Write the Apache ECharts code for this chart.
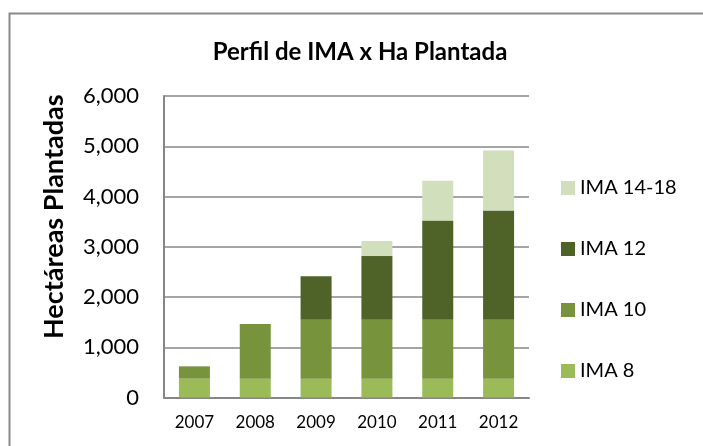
<html>
<head>
    <meta charset="UTF-8">
    <title>Perfil de IMA x Ha Plantada</title>
    <script src="https://cdn.jsdelivr.net/npm/echarts@6/dist/echarts.min.js"></script>
    <style>
        body { margin: 0; background: #fff; }
    </style>
</head>
<body>
    <div id="chart" style="width:703px; height:446px;"></div>

    <script>
        // datos
        var years = ['2007', '2008', '2009', '2010', '2011', '2012'];
        var ima8 = [375, 375, 375, 375, 375, 375];
        var ima10 = [245, 1090, 1170, 1170, 1170, 1170];
        var ima12 = [0, 0, 870, 1270, 1975, 2175];
        var ima1418 = [0, 0, 0, 300, 795, 1195];
        var yTicks = [0, 1000, 2000, 3000, 4000, 5000, 6000];

        var font = 'Lato, "DejaVu Sans", sans-serif';

        function serie(name, data, color) {
            return {
                name: name,
                type: 'bar',
                stack: 'total',
                data: data,
                barWidth: 31,
                itemStyle: { color: color },
                emphasis: { disabled: true }
            };
        }

        var chart = echarts.init(document.getElementById('chart'), null, { renderer: 'canvas' });
        chart.setOption({
            animation: false,
            backgroundColor: '#fff',
            title: {
                text: 'Perfil de IMA x Ha Plantada',
                left: 355,
                textAlign: 'center',
                top: 35,
                textStyle: { fontFamily: font, fontSize: 24, fontWeight: 'bold', color: '#000' }
            },
            legend: {
                orient: 'vertical',
                left: 556,
                top: 173,
                itemWidth: 14,
                itemHeight: 14,
                itemGap: 41,
                icon: 'rect',
                data: ['IMA 14-18', 'IMA 12', 'IMA 10', 'IMA 8'],
                textStyle: { fontFamily: font, fontSize: 20, color: '#000', lineHeight: 20 }
            },
            grid: { left: 164, right: 174, top: 96, bottom: 48.5 },
            xAxis: {
                type: 'category',
                data: years,
                axisLine: { lineStyle: { color: '#868686', width: 2 } },
                axisTick: { show: false },
                axisLabel: { fontFamily: font, fontSize: 17, color: '#000', margin: 17 }
            },
            yAxis: {
                type: 'value',
                min: yTicks[0],
                max: yTicks[yTicks.length - 1],
                interval: 1000,
                name: 'Hectáreas Plantadas',
                nameLocation: 'middle',
                nameGap: 96,
                nameTextStyle: {
                    fontFamily: font, fontSize: 27, fontWeight: 'bold', color: '#000',
                    padding: [0, 0, 0, 60]
                },
                axisLine: { show: true, lineStyle: { color: '#868686', width: 2 } },
                axisTick: { show: false },
                splitLine: { lineStyle: { color: '#878787', width: 1.5 } },
                axisLabel: {
                    fontFamily: font, fontSize: 22, color: '#000', margin: 25,
                    formatter: function (v) { return v.toLocaleString('en-US'); }
                }
            },
            graphic: [{
                type: 'polyline',
                shape: { points: [[9.5, 446], [9.5, 13.5], [703, 13.5]] },
                style: { stroke: '#8a8a8a', lineWidth: 2, fill: null }
            }],
            series: [
                serie('IMA 8', ima8, '#9bbb59'),
                serie('IMA 10', ima10, '#77933c'),
                serie('IMA 12', ima12, '#4f6228'),
                serie('IMA 14-18', ima1418, '#d1dfbd')
            ]
        });
    </script>
</body>
</html>
